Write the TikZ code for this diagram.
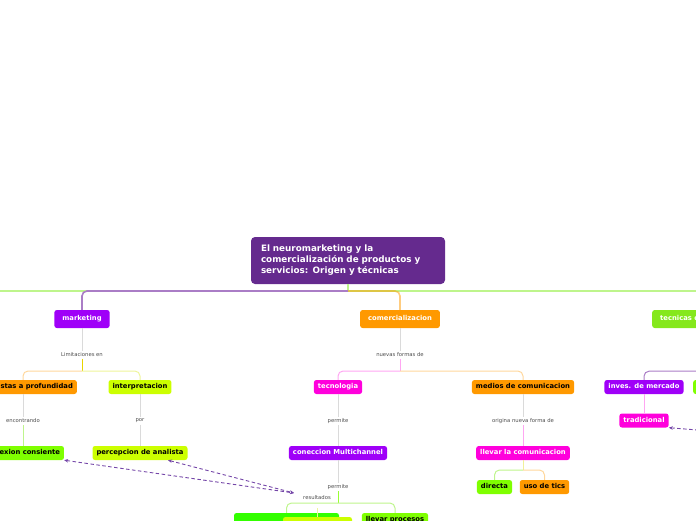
\documentclass[tikz,border=0pt]{standalone}
\usepackage{fontspec}
\setmainfont{DejaVu Sans}
\usetikzlibrary{arrows.meta}
\definecolor{rootc}{HTML}{652A8E}
\definecolor{vio}{HTML}{9F00F8}
\definecolor{ora}{HTML}{FF9900}
\definecolor{mag}{HTML}{FF00DC}
\definecolor{chart}{HTML}{7FFF00}
\definecolor{lime}{HTML}{CCFF00}
\definecolor{grn}{HTML}{33FF00}
\definecolor{tecg}{HTML}{85E81C}
\definecolor{gryline}{HTML}{DADADA}
\definecolor{lgline}{HTML}{BEF58C}
\definecolor{violine}{HTML}{AA7DC6}
\definecolor{oraline}{HTML}{FFD79C}
\definecolor{magline}{HTML}{FFA6F2}
\definecolor{limline}{HTML}{EEF59A}
\definecolor{yelline}{HTML}{E8D400}
\definecolor{relc}{HTML}{7446A8}
\tikzset{
  root/.style={fill=rootc, text=white, rounded corners=4pt, align=left,
    text width=174pt, inner xsep=10pt, minimum height=47pt,
    font=\fontsize{8.8}{11}\selectfont\bfseries},
  topic/.style={rounded corners=2.5pt, inner xsep=4pt, inner ysep=0pt,
    minimum height=14pt, text height=5.1pt, text depth=1.4pt,
    font=\fontsize{6.8}{8}\selectfont\bfseries},
  main/.style={topic, inner xsep=8pt, minimum height=18pt, text=white},
  lbl/.style={font=\fontsize{5.3}{6}\selectfont, text=black!70, inner sep=1.5pt},
  gray link/.style={draw=gryline, line width=1pt},
  branch/.style={line width=1pt, rounded corners=5pt},
  rel/.style={draw=relc, line width=0.9pt, dash pattern=on 3.5pt off 2.5pt,
    <->, >={Stealth[length=4pt,width=3.5pt]}}
}
\begin{document}
\begin{tikzpicture}[x=1pt,y=-1pt]
\useasboundingbox (0,0) rectangle (696,520);
\clip (0,0) rectangle (696,520);

% central topic
\node[root] (root) at (348,260.5) {El neuromarketing y la\\comercialización de productos y\\servicios: Origen y técnicas};

% main topics
\node[main, fill=vio] (mkt) at (82,319) {marketing};
\node[main, fill=ora] (com) at (400,319) {comercializacion};
\node[main, fill=tecg, anchor=west] (tec) at (652,319) {tecnicas de neuromarketing};

% marketing
\node[lbl] (limit) at (82,355) {Limitaciones en};
\node[topic, fill=ora] (entrev) at (23,387) {entrevistas a profundidad};
\node[topic, fill=lime] (interp) at (140,387) {interpretacion};
\node[lbl] (encon) at (23,421) {encontrando};
\node[lbl] (por) at (140,421) {por};
\node[topic, fill=chart] (conex) at (23,453) {conexion consiente};
\node[topic, fill=lime] (percep) at (140,453) {percepcion de analista};

% comercializacion
\node[lbl] (nuevas) at (400,355) {nuevas formas de};
\node[topic, fill=mag, text=white] (tecno) at (338,387) {tecnologia};
\node[topic, fill=ora] (medios) at (523,387) {medios de comunicacion};
\node[lbl] (perm1) at (338,421) {permite};
\node[topic, fill=vio, text=white] (multi) at (338,453) {coneccion Multichannel};
\node[lbl] (perm2) at (338,487) {permite};
\node[lbl] (resul) at (317,498) {resultados};
\node[topic, fill=grn, minimum width=105pt] (resA) at (286.5,520) {};
\node[topic, fill=lime, minimum width=69pt] (resB) at (317.5,524) {};
\node[topic, fill=chart] (procesos) at (395,520) {llevar procesos};
\node[lbl] (origina) at (523,421) {origina nueva forma de};
\node[topic, fill=mag, text=white] (llevar) at (523,453) {llevar la comunicacion};
\node[topic, fill=chart] (directa) at (494.5,487) {directa};
\node[topic, fill=ora] (tics) at (544.5,487) {uso de tics};

% tecnicas
\node[topic, fill=vio, text=white] (inves) at (644,387) {inves. de mercado};
\node[topic, fill=chart, anchor=west, minimum width=40pt] (tecB) at (693,387) {};
\node[topic, fill=mag, text=white] (tradic) at (644,420.5) {tradicional};

% connectors from the root
\coordinate (hub) at (348,291);
\coordinate (offL) at (-20,291);
\draw[draw=lgline, line width=1.6pt] (root.south) -- (hub);
\draw[draw=lgline, line width=1.6pt, rounded corners=5pt] (offL) -- (hub) -| (tec.north);
\draw[draw=violine, line width=1.6pt, rounded corners=5pt] (hub) -| (mkt.north);
\draw[draw=ora, opacity=0.5, line width=1.6pt, rounded corners=5pt] (hub) -| (com.north);

\foreach \a/\b in {mkt/limit, entrev/encon, interp/por, por/percep, com/nuevas,
  tecno/perm1, perm1/multi, multi/perm2, medios/origina}
  \draw[gray link] (\a) -- (\b);

% forks
\coordinate (mktfork) at (82,371);
\draw[draw=yelline, line width=1pt] (limit) -- (mktfork);
\draw[branch, draw=oraline] (mktfork) -| (entrev.north);
\draw[branch, draw=limline] (mktfork) -| (interp.north);
\draw[draw=lgline, line width=1pt] (encon) -- (conex);

\coordinate (comfork) at (400,371);
\draw[draw=magline, line width=1pt] (nuevas) -- (comfork);
\draw[branch, draw=magline] (comfork) -| (tecno.north);
\draw[branch, draw=oraline] (comfork) -| (medios.north);
\draw[draw=magline, line width=1pt] (origina) -- (llevar);

\coordinate (llfork) at (523,470);
\draw[draw=limline!80!oraline, line width=1pt] (llevar) -- (llfork);
\draw[branch, draw=lgline] (llfork) -| (directa.north);
\draw[branch, draw=oraline] (llfork) -| (tics.north);

\coordinate (mufork) at (338,503);
\coordinate (resBtop) at (317.5,508);
\draw[draw=chart!80, line width=1pt] (perm2) -- (mufork);
\draw[branch, draw=lgline] (mufork) -| (resA.north);
\draw[branch, draw=lgline] (mufork) -| (procesos.north);
\draw[draw=limline, line width=1pt] (resBtop) -- (resB.north);

\path (tec.south) ++(0,43) coordinate (tecfork);
\draw[branch, draw=violine] (tecfork) -| (inves.north);
\draw[branch, draw=lgline] (tecfork) -| (tecB.north);
\draw[draw=magline, line width=1pt] (inves) -- (tradic);

% relations
\coordinate (relend) at (294,493);
\coordinate (offR) at (760,435);
\draw[rel] (conex.south east) -- (relend);
\draw[rel] ([xshift=28pt]percep.south) -- (relend);
\draw[rel] (tradic.south east) -- (offR);
\end{tikzpicture}
\end{document}
